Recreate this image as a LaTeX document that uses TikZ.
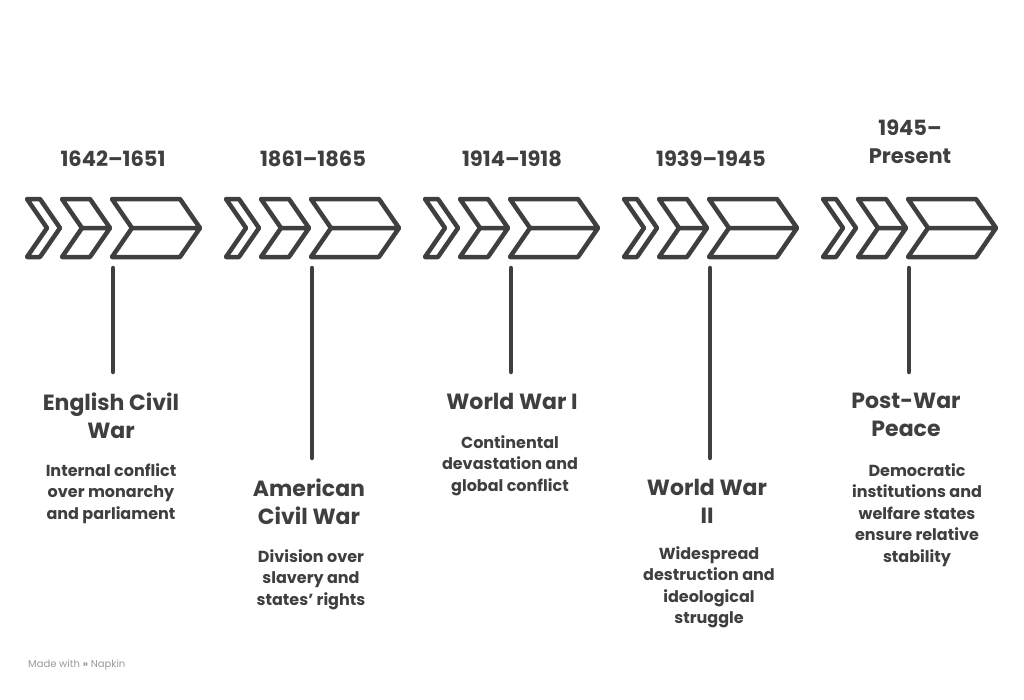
\documentclass[tikz,border=0pt]{standalone}
\usepackage{fontspec}
\setmainfont{Poppins}
\definecolor{ink}{HTML}{3F3F3F}
\begin{document}
\begin{tikzpicture}[x=1pt,y=-1pt,
  chev/.style={draw=ink,line width=4.5pt,line join=round},
  stem/.style={draw=ink,line width=4.5pt,line cap=round},
  yr/.style={font=\fontsize{21}{28}\selectfont\bfseries,text=ink,align=center,inner sep=0},
  ttl/.style={font=\fontsize{22}{28}\selectfont\bfseries,text=ink,align=center,anchor=north,inner sep=0},
  dsc/.style={font=\fontsize{16}{21.5}\selectfont\bfseries,text=ink,align=center,anchor=north,inner sep=0}]
\useasboundingbox (0,0) rectangle (1024,699);
\foreach \o/\n in {0/a,199/b,398/c,597/d,796/e}{
  \begin{scope}[xshift=\o pt]
  \draw[chev] (27,199)--(40,199)--(60,228)--(40,257)--(27,257)--(47,228)--cycle;
  \draw[chev] (62,199)--(90,199)--(110,228)--(90,257)--(62,257)--(82,228)--cycle (82,228)--(110,228);
  \draw[chev] (112,199)--(180,199)--(200,228)--(180,257)--(112,257)--(132,228)--cycle (132,228)--(200,228);
  \coordinate (s\n) at (113,268);
  \end{scope}}
\coordinate (ea) at (113,372); \coordinate (eb) at (312,458); \coordinate (ec) at (511,372);
\coordinate (ed) at (710,458); \coordinate (ee) at (909,372);
\foreach \n in {a,b,c,d,e}{\draw[stem] (s\n) -- (e\n);}
\node[yr] (y1) at (113,159) {1642–1651};
\node[yr] (y2) at (313,159) {1861–1865};
\node[yr] (y3) at (512,159) {1914–1918};
\node[yr] (y4) at (711,159) {1939–1945};
\node[yr,anchor=north] (y5) at (910,120) {1945–\\Present};
\node[ttl] (t1) at (111,393) {English Civil\\War};
\node[dsc] (d1) at (111,463) {Internal conflict\\over monarchy\\and parliament};
\node[ttl] (t2) at (309,479) {American\\Civil War};
\node[dsc] (d2) at (311,549) {Division over\\slavery and\\states' rights};
\node[ttl] (t3) at (512,393) {World War I};
\node[dsc] (d3) at (510,435) {Continental\\devastation and\\global conflict};
\node[ttl] (t4) at (707,479) {World War\\II};
\node[dsc] (d4) at (709,546) {Widespread\\destruction and\\ideological\\struggle};
\node[ttl] (t5) at (906,393) {Post-War\\Peace};
\node[dsc] (d5) at (917,463) {Democratic\\institutions and\\welfare states\\ensure relative\\stability};
\node[anchor=west,text=gray!80,font=\fontsize{10}{12}\selectfont,inner sep=0] (ft) at (28,665) {Made with \textbf{»} Napkin};
\end{tikzpicture}
\end{document}
